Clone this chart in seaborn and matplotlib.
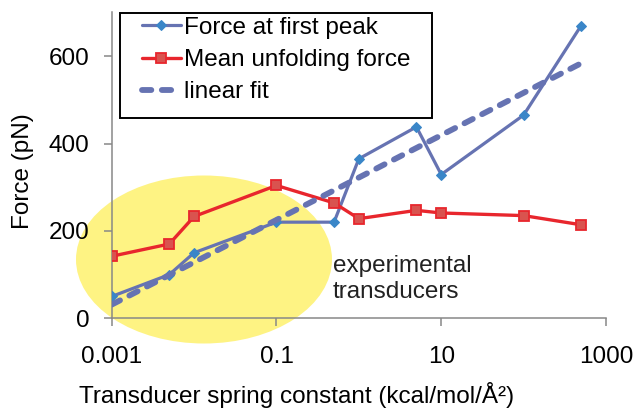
import numpy as np
import pandas as pd
import matplotlib
matplotlib.use("Agg")
import matplotlib.pyplot as plt
import seaborn as sns
from matplotlib.patches import Ellipse, Rectangle
from matplotlib.ticker import FixedLocator, FixedFormatter, NullLocator

# ---- data ----
spring_constant = [0.001, 0.005, 0.01, 0.1, 0.5, 1, 5, 10, 100, 500]
force_first_peak = [50, 100, 150, 220, 220, 365, 438, 329, 465, 670]
mean_unfolding_force = [142, 170, 233, 304, 264, 228, 247, 241, 235, 214]
x_ticks = [0.001, 0.1, 10, 1000]
x_tick_labels = ["0.001", "0.1", "10", "1000"]
y_ticks = [0, 200, 400, 600]
series_names = ["Force at first peak", "Mean unfolding force", "linear fit"]
annotation = ["experimental", "transducers"]

# ---- style ----
sns.set_theme(style="white")
plt.rcParams['font.family'] = ['Liberation Sans', 'DejaVu Sans']

W, H = 635, 408
FS = 17.5
blue_line = "#6673B2"
blue_marker = "#3A86C8"
red_line = "#E8262D"
red_marker = "#D9534F"
axis_grey = "#888888"
yellow = "#FEF383"

# plot area in pixels
AX_L, AX_R, AX_T, AX_B = 111.7, 606.0, 12.4, 318.3

fig = plt.figure(figsize=(W / 100, H / 100), dpi=100)
ax = fig.add_axes([AX_L / W, 1 - AX_B / H, (AX_R - AX_L) / W, (AX_B - AX_T) / H])
ax.set_facecolor("none")

# yellow ellipse highlighting experimental transducers (decoration)
fig.add_artist(Ellipse((204 / W, 1 - 259.5 / H), 256 / W, 168 / H,
                       transform=fig.transFigure, facecolor=yellow,
                       edgecolor="none", zorder=-1))

df = pd.DataFrame({"k": spring_constant,
                   "peak": force_first_peak,
                   "mean": mean_unfolding_force})

sns.lineplot(data=df, x="k", y="peak", ax=ax, color=blue_line, lw=2.3,
             marker="D", ms=5.0, mfc=blue_marker, mec=blue_marker,
             label=series_names[0], zorder=3)
sns.lineplot(data=df, x="k", y="mean", ax=ax, color=red_line, lw=2.4,
             marker="s", ms=6.8, mfc=red_marker, mec=red_line, mew=1.3,
             label=series_names[1], zorder=3)

# least-squares fit of first-peak force vs log10(k)
slope, intercept = np.polyfit(np.log10(spring_constant), force_first_peak, 1)
fit_x = [spring_constant[0], spring_constant[-1]]
fit_y = [intercept + slope * np.log10(v) for v in fit_x]
sns.lineplot(x=fit_x, y=fit_y, ax=ax, color=blue_line, lw=4.2,
             label=series_names[2], zorder=4)
fit_line = ax.lines[-1]
fit_line.set_dashes([1.6, 1.8])
fit_line.set_dash_capstyle("round")

ax.set_xscale("log")
ax.set_xlim(0.001, 1000)
ax.set_ylim(0, 700)
ax.xaxis.set_major_locator(FixedLocator(x_ticks))
ax.xaxis.set_major_formatter(FixedFormatter(x_tick_labels))
ax.xaxis.set_minor_locator(NullLocator())
ax.yaxis.set_major_locator(FixedLocator(y_ticks))

sns.despine(ax=ax)
for s in ("left", "bottom"):
    ax.spines[s].set_color(axis_grey)
    ax.spines[s].set_linewidth(1.1)
ax.tick_params(axis="x", bottom=True, direction="out", length=6, width=1.1,
               color=axis_grey, pad=14, labelsize=FS, labelcolor="black")
ax.tick_params(axis="y", left=True, direction="out", length=6, width=1.1,
               color=axis_grey, pad=10, labelsize=FS, labelcolor="black")

ax.set_xlabel("Transducer spring constant (kcal/mol/Å²)", fontsize=FS, color="black")
ax.set_ylabel("Force (pN)", fontsize=FS, color="black")
ax.xaxis.set_label_coords((297 - AX_L) / (AX_R - AX_L), (AX_B - 382) / (AX_B - AX_T))
ax.yaxis.set_label_coords((34 - AX_L) / (AX_R - AX_L), (AX_B - 171) / (AX_B - AX_T))

fig.text(333 / W, 1 - 272 / H, annotation[0], fontsize=FS, color="#222222", va="baseline")
fig.text(333 / W, 1 - 298.5 / H, annotation[1], fontsize=FS, color="#222222", va="baseline")

handles, labels = ax.get_legend_handles_labels()
leg = ax.legend(handles, labels, loc="upper left",
                bbox_to_anchor=(137 / W, 1 - 12 / H), bbox_transform=fig.transFigure,
                frameon=False, fontsize=FS, handlelength=1.6, handletextpad=0.12,
                labelspacing=0.42, borderpad=0.2, borderaxespad=0, numpoints=1)
for t in leg.get_texts():
    t.set_color("black")
fig.add_artist(Rectangle((120 / W, 1 - 118.3 / H), 311.7 / W, 105.8 / H,
                         transform=fig.transFigure, fill=False,
                         edgecolor="black", lw=1.4, zorder=5))

fig.savefig("out.png", dpi=100)
